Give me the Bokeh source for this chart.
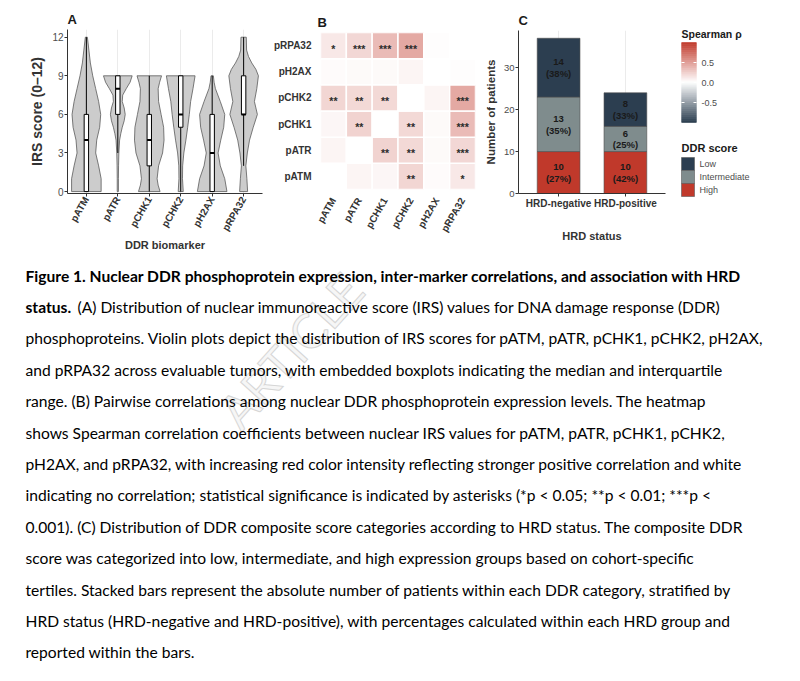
import math
from bokeh.plotting import figure
from bokeh.layouts import row, column
from bokeh.models import (Range1d, FactorRange, FixedTicker, ColumnDataSource,
                          LinearColorMapper)
from bokeh.transform import transform
from bokeh.core.properties import value
from bokeh.embed import file_html
from bokeh.resources import INLINE

# ---------------- data ----------------
markers = ["pATM", "pATR", "pCHK1", "pCHK2", "pH2AX", "pRPA32"]

# violin outlines: IRS level -> relative half width (1 = widest)
patm_irs = [0, 1, 2, 3, 4, 5, 6, 7, 8, 9, 10, 11, 12]
patm_w = [1.0, 1.0, 0.83, 0.63, 0.7, 0.9, 0.97, 0.83, 0.63, 0.43, 0.27, 0.17, 0.07]
patr_irs = [0, 1, 2, 3, 4, 4.5, 5, 5.5, 6, 6.5, 7, 7.5, 8, 8.5, 9]
patr_w = [0.04, 0.04, 0.05, 0.07, 0.12, 0.2, 0.3, 0.43, 0.5, 0.43, 0.3, 0.33, 0.57, 0.83, 0.97]
pchk1_irs = [0, 0.5, 1, 2, 3, 4, 5, 6, 7, 8, 8.5, 9]
pchk1_w = [0.73, 0.6, 0.53, 0.63, 0.9, 1.0, 0.97, 0.8, 0.63, 0.6, 0.7, 0.83]
pchk2_irs = [0, 1, 2, 3, 4, 5, 6, 7, 8, 9]
pchk2_w = [0.17, 0.12, 0.13, 0.21, 0.35, 0.47, 0.58, 0.67, 0.83, 0.97]
ph2ax_irs = [0, 1, 2, 3, 4, 5, 6, 7, 8, 8.5, 9]
ph2ax_w = [1.0, 0.85, 0.55, 0.4, 0.58, 0.78, 0.85, 0.55, 0.22, 0.13, 0.08]
prpa32_irs = [0, 1, 2, 3, 4, 5, 6, 6.5, 7, 8, 9, 9.5, 10, 10.5, 11, 12]
prpa32_w = [0.27, 0.22, 0.15, 0.25, 0.4, 0.65, 0.93, 0.83, 0.73, 0.89, 1.0, 0.83, 0.55, 0.33, 0.2, 0.18]

box_q1 = [0, 6, 2, 5, 0, 6]
box_median = [4, 8, 4, 6, 3, 6]
box_q3 = [6, 9, 6, 9, 6, 9]
whisker_low = [0, 3, 0, 0, 0, 2]
whisker_high = [12, 9, 9, 9, 9, 12]

irs_ticks = [0, 3, 6, 9, 12]

# Spearman rho matrix (rows/cols in markers order), None = diagonal
rho = [
    [None, 0.05, 0.04, 0.21, 0.02, 0.11],
    [0.05, None, 0.22, 0.19, 0.03, 0.20],
    [0.04, 0.22, None, 0.19, 0.03, 0.34],
    [0.21, 0.19, 0.19, None, 0.05, 0.43],
    [0.02, 0.03, 0.03, 0.05, None, 0.01],
    [0.11, 0.20, 0.34, 0.43, 0.01, None],
]
signif = [
    ["", "", "", "**", "", "*"],
    ["", "", "**", "**", "", "***"],
    ["", "**", "", "**", "", "***"],
    ["**", "**", "**", "", "", "***"],
    ["", "", "", "", "", ""],
    ["*", "***", "***", "***", "", ""],
]
rho_ticks = [0.5, 0.0, -0.5]

hrd_groups = ["HRD-negative", "HRD-positive"]
ddr_levels = ["High", "Intermediate", "Low"]          # stacking order, bottom to top
high_counts = [10, 10]
intermediate_counts = [13, 6]
low_counts = [14, 8]
count_ticks = [0, 10, 20, 30]

caption_lines = [
    "Figure 1. Nuclear DDR phosphoprotein expression, inter-marker correlations, and association with HRD",
    "status. (A) Distribution of nuclear immunoreactive score (IRS) values for DNA damage response (DDR)",
    "phosphoproteins. Violin plots depict the distribution of IRS scores for pATM, pATR, pCHK1, pCHK2, pH2AX,",
    "and pRPA32 across evaluable tumors, with embedded boxplots indicating the median and interquartile",
    "range. (B) Pairwise correlations among nuclear DDR phosphoprotein expression levels. The heatmap",
    "shows Spearman correlation coefficients between nuclear IRS values for pATM, pATR, pCHK1, pCHK2,",
    "pH2AX, and pRPA32, with increasing red color intensity reflecting stronger positive correlation and white",
    "indicating no correlation; statistical significance is indicated by asterisks (*p < 0.05; **p < 0.01; ***p <",
    "0.001). (C) Distribution of DDR composite score categories according to HRD status. The composite DDR",
    "score was categorized into low, intermediate, and high expression groups based on cohort-specific",
    "tertiles. Stacked bars represent the absolute number of patients within each DDR category, stratified by",
    "HRD status (HRD-negative and HRD-positive), with percentages calculated within each HRD group and",
    "reported within the bars.",
]
watermark = "ARTICLE"

# ---------------- style ----------------
FONT = "Liberation Sans"
CAP_FONT = "Lato"
TICK_COL = "#4d4d4d"
LAB_COL = "#333333"
NAVY = "#2c3e50"
GRAYC = "#7f8c8d"
RED = "#c0392b"
ROW_H = 254


def hex_to_rgb(h):
    h = h.lstrip("#")
    return tuple(int(h[i:i + 2], 16) for i in (0, 2, 4))


def mix(c1, c2, t):
    a, b = hex_to_rgb(c1), hex_to_rgb(c2)
    return "#%02x%02x%02x" % tuple(int(round(a[i] + (b[i] - a[i]) * t)) for i in range(3))


palette = []
for k in range(256):
    v = -1 + 2 * k / 255
    palette.append(mix("#ffffff", NAVY, -v) if v < 0 else mix("#ffffff", RED, v))
mapper = LinearColorMapper(palette=palette, low=-1, high=1, nan_color="white")


def base_fig(**kw):
    p = figure(output_backend="svg", toolbar_location=None, frame_align=False, **kw)
    p.outline_line_color = None
    p.background_fill_color = "white"
    p.border_fill_color = "white"
    return p


def panel_title(p, letter, offset=0, size="13px", standoff=6):
    p.title.text = letter
    p.title.text_font = FONT
    p.title.text_font_size = size
    p.title.text_font_style = "bold"
    p.title.text_color = "#1a1a1a"
    p.title.align = "left"
    p.title.offset = offset
    p.title.standoff = standoff


def style_axis(ax, label_size="9.5px"):
    ax.major_label_text_font = FONT
    ax.major_label_text_font_size = label_size
    ax.major_label_text_color = TICK_COL
    ax.axis_label_text_font = FONT
    ax.axis_label_text_font_size = "11px"
    ax.axis_label_text_font_style = "bold"
    ax.axis_label_text_color = LAB_COL
    ax.axis_line_color = "#333333"
    ax.axis_line_width = 1
    ax.major_tick_line_color = "#333333"
    ax.major_tick_out = 3
    ax.major_tick_in = 0
    ax.minor_tick_line_color = None
    ax.major_label_standoff = 1


# ---------------- panel A: violins ----------------
pA = base_fig(width=270, height=ROW_H, x_range=Range1d(0.4, 6.6), y_range=Range1d(-0.15, 12.6),
              min_border_left=67, min_border_right=8, min_border_top=29, min_border_bottom=ROW_H - 193)
panel_title(pA, "A")
HALF = 0.47
v_levels = [patm_irs, patr_irs, pchk1_irs, pchk2_irs, ph2ax_irs, prpa32_irs]
v_widths = [patm_w, patr_w, pchk1_w, pchk2_w, ph2ax_w, prpa32_w]
xs, ys = [], []
for i, (lv, wd) in enumerate(zip(v_levels, v_widths)):
    c = i + 1
    xs.append([c + w * HALF for w in wd] + [c - w * HALF for w in reversed(wd)])
    ys.append(list(lv) + list(reversed(lv)))
pA.patches(xs, ys, fill_color="#cccccc", line_color="#5a5a5a", line_width=0.8)

centers = list(range(1, len(markers) + 1))
bsrc = ColumnDataSource(dict(x=centers, q1=box_q1, med=box_median, q3=box_q3,
                             lo=whisker_low, hi=whisker_high,
                             x0=[c - 0.07 for c in centers], x1=[c + 0.07 for c in centers]))
pA.segment(x0="x", y0="lo", x1="x", y1="q1", source=bsrc, line_color="black", line_width=1)
pA.segment(x0="x", y0="q3", x1="x", y1="hi", source=bsrc, line_color="black", line_width=1)
pA.vbar(x="x", bottom="q1", top="q3", width=0.14, source=bsrc, fill_color="white",
        line_color="black", line_width=1)
pA.segment(x0="x0", y0="med", x1="x1", y1="med", source=bsrc, line_color="black", line_width=2)

pA.xaxis.ticker = FixedTicker(ticks=centers)
pA.xaxis.major_label_overrides = {c: m for c, m in zip(centers, markers)}
pA.yaxis.ticker = FixedTicker(ticks=irs_ticks)
style_axis(pA.xaxis[0])
style_axis(pA.yaxis[0], label_size="10px")
pA.xaxis.major_label_orientation = math.pi / 3
pA.xaxis.major_label_text_font_style = "bold"
pA.xaxis.major_label_text_color = LAB_COL
pA.xaxis.major_label_text_font_size = "10px"
pA.xaxis.axis_label = "DDR biomarker"
pA.yaxis.axis_label = "IRS score (0\u201312)"
pA.yaxis.axis_label_text_font_size = "14px"
pA.xaxis.axis_label_standoff = 0
pA.yaxis.axis_label_standoff = 4
pA.xgrid.ticker = FixedTicker(ticks=centers)
pA.xgrid.grid_line_color = "#ebebeb"
pA.ygrid.grid_line_color = None

# ---------------- panel B: heatmap ----------------
hx, hy, hv, hs = [], [], [], []
for r, rname in enumerate(markers):
    for c, cname in enumerate(markers):
        hx.append(cname)
        hy.append(rname)
        hv.append(float("nan") if rho[r][c] is None else rho[r][c])
        hs.append(signif[r][c])
hsrc = ColumnDataSource(dict(x=hx, y=hy, rho=hv, sig=hs))
pB = base_fig(width=210, height=ROW_H, x_range=FactorRange(*markers), y_range=FactorRange(*markers),
              min_border_left=49, min_border_right=5, min_border_top=32, min_border_bottom=ROW_H - 189)
panel_title(pB, "B", offset=-3)
pB.rect(x="x", y="y", width=1, height=1, source=hsrc, fill_color=transform("rho", mapper),
        line_color="white", line_width=1.5)
pB.text(x="x", y="y", text="sig", source=hsrc, text_align="center", text_baseline="middle",
        text_font=value(FONT), text_font_size="10.5px", text_font_style="bold", text_color="#2b2b2b",
        y_offset=3)
for ax in (pB.xaxis[0], pB.yaxis[0]):
    style_axis(ax)
    ax.axis_line_color = None
    ax.major_tick_line_color = None
    ax.major_label_text_font_style = "bold"
    ax.major_label_text_color = LAB_COL
    ax.major_label_text_font_size = "10px"
    ax.major_label_standoff = 6
pB.xaxis.major_label_orientation = math.pi / 3
pB.grid.visible = False

# ---------------- panel C: stacked bars ----------------
csrc = ColumnDataSource(dict(group=hrd_groups, High=high_counts, Intermediate=intermediate_counts,
                             Low=low_counts))
pC = base_fig(width=195, height=ROW_H,
              x_range=FactorRange(*hrd_groups, range_padding=0.1, range_padding_units="absolute"),
              y_range=Range1d(0, 38.85),
              min_border_left=38, min_border_right=10, min_border_top=30, min_border_bottom=ROW_H - 193)
panel_title(pC, "C")
bar_colors = [RED, GRAYC, NAVY]
pC.vbar_stack(ddr_levels, x="group", width=0.64, source=csrc, color=bar_colors,
              line_color="#4d4d4d", line_width=0.6)
tx, ty, tt = [], [], []
for gi, g in enumerate(hrd_groups):
    vals = [high_counts[gi], intermediate_counts[gi], low_counts[gi]]
    tot = sum(vals)
    base = 0
    for v in vals:
        tx.append(g)
        ty.append(base + v / 2)
        tt.append("%d\n(%d%%)" % (v, round(100 * v / tot)))
        base += v
pC.text(x=tx, y=ty, text=tt, text_align="center", text_baseline="middle",
        text_font=value(FONT), text_font_size="9.5px", text_font_style="bold",
        text_color="#1a1a1a", text_line_height=1.05)
pC.yaxis.ticker = FixedTicker(ticks=count_ticks)
style_axis(pC.xaxis[0])
style_axis(pC.yaxis[0])
pC.xaxis.major_label_text_font_style = "bold"
pC.xaxis.major_label_text_color = LAB_COL
pC.xaxis.major_label_text_font_size = "10px"
pC.xaxis.axis_label = "HRD status"
pC.yaxis.axis_label = "Number of patients"
pC.yaxis.axis_label_text_font_size = "11.5px"
pC.xaxis.axis_label_standoff = 18
pC.yaxis.axis_label_standoff = 4
pC.xgrid.grid_line_color = "#ebebeb"
pC.ygrid.grid_line_color = None

# ---------------- legends (guide panel, pixel layout, y downwards) ----------------
LW = 125
pL = base_fig(width=LW, height=ROW_H, x_range=Range1d(0, LW), y_range=Range1d(ROW_H, 0),
              x_axis_type=None, y_axis_type=None,
              min_border_left=0, min_border_right=0, min_border_top=0, min_border_bottom=0)
pL.grid.visible = False
# colour bar: rho from +1 (top) to -1 (bottom)
CB_X0, CB_X1, CB_TOP, CB_H = 6, 21, 42, 80
n_steps = 120
cb_src = ColumnDataSource(dict(
    v=[1 - 2 * (k + 0.5) / n_steps for k in range(n_steps)],
    top=[CB_TOP + CB_H * k / n_steps - 0.3 for k in range(n_steps)],
    bottom=[CB_TOP + CB_H * (k + 1) / n_steps + 0.3 for k in range(n_steps)],
))
pL.quad(left=CB_X0, right=CB_X1, top="top", bottom="bottom", source=cb_src,
        fill_color=transform("v", mapper), line_color=None)
tick_y = [CB_TOP + CB_H * (1 - t) / 2 for t in rho_ticks]
pL.segment(x0=[CB_X0] * 3, x1=[CB_X0 + 3] * 3, y0=tick_y, y1=tick_y, line_color="white", line_width=1)
pL.segment(x0=[CB_X1 - 3] * 3, x1=[CB_X1] * 3, y0=tick_y, y1=tick_y, line_color="white", line_width=1)
pL.text(x=[CB_X1 + 5] * 3, y=tick_y, text=["%.1f" % t for t in rho_ticks], text_baseline="middle",
        text_font=value(FONT), text_font_size="9px", text_color=TICK_COL)
pL.text(x=[CB_X0], y=[33], text=["Spearman \u03c1"], text_baseline="middle",
        text_font=value(FONT), text_font_size="10.5px", text_font_style="bold", text_color="#1a1a1a")
# DDR score keys
key_labels = ["Low", "Intermediate", "High"]
key_colors = [NAVY, GRAYC, RED]
KEY_TOP, KEY_H = 157, 13
k_top = [KEY_TOP + i * KEY_H for i in range(3)]
pL.quad(left=CB_X0, right=CB_X0 + 13, top=k_top, bottom=[t + KEY_H for t in k_top],
        fill_color=key_colors, line_color="#5a5a5a", line_width=0.6)
pL.text(x=[CB_X0 + 18] * 3, y=[t + KEY_H / 2 for t in k_top], text=key_labels, text_baseline="middle",
        text_font=value(FONT), text_font_size="9px", text_color=TICK_COL)
pL.text(x=[CB_X0], y=[147], text=["DDR score"], text_baseline="middle",
        text_font=value(FONT), text_font_size="11px", text_font_style="bold", text_color="#1a1a1a")

# ---------------- caption ----------------
CAP_H = 681 - ROW_H
pT = base_fig(width=800, height=CAP_H, x_range=Range1d(0, 800), y_range=Range1d(CAP_H, 0),
              x_axis_type=None, y_axis_type=None,
              min_border_left=0, min_border_right=0, min_border_top=0, min_border_bottom=0)
pT.grid.visible = False
LINE0, STEP, X0 = 275 - ROW_H, 31.4, 25
line_y = [LINE0 + i * STEP for i in range(len(caption_lines))]
pT.text(x=[290], y=[350 - ROW_H], text=[watermark], angle=math.radians(48), text_align="center",
        text_baseline="middle", text_font=value(CAP_FONT), text_font_size="48px",
        text_color="#f6f6f6", text_outline_color="#d6d6d6")
common = dict(text_baseline="middle", text_font=value(CAP_FONT), text_font_size="15.6px",
              text_color="#000000")
pT.text(x=[X0], y=[line_y[0]], text=[caption_lines[0]], text_font_style="bold", **common)
first_word = caption_lines[1].split(" ")[0]
pT.text(x=[X0], y=[line_y[1]], text=[first_word], text_font_style="bold", **common)
pT.text(x=[X0 + 52], y=[line_y[1]], text=[caption_lines[1][len(first_word) + 1:]], **common)
pT.text(x=[X0] * (len(caption_lines) - 2), y=line_y[2:], text=caption_lines[2:], **common)

layout = column(row(pA, pB, pC, pL), pT)
open("out.html", "w").write(file_html(layout, INLINE))
